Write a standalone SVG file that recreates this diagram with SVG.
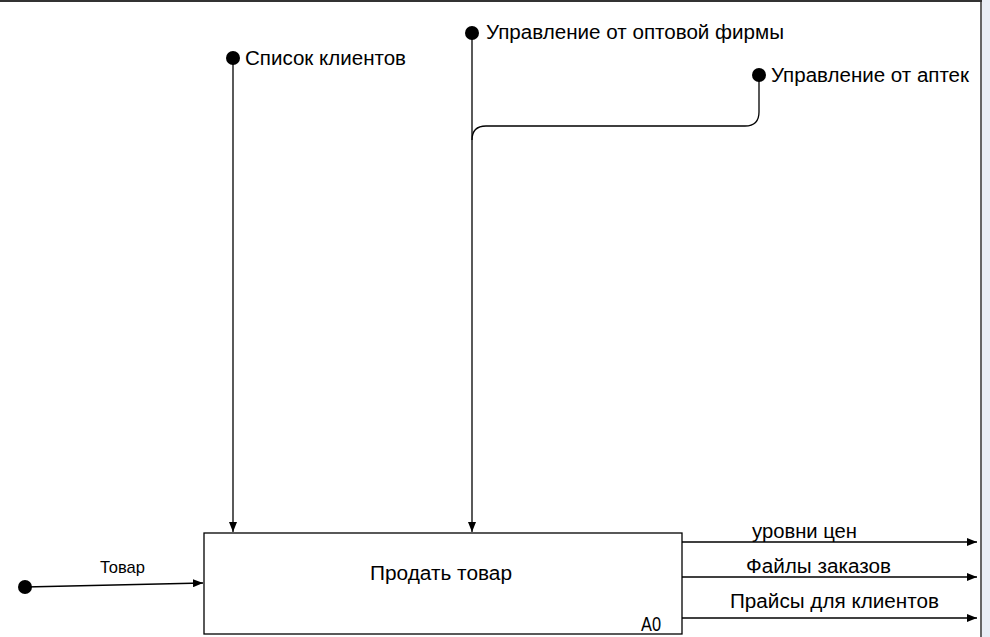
<svg xmlns="http://www.w3.org/2000/svg" width="990" height="637" viewBox="0 0 990 637">
<style>
.ln{fill:none;stroke:#000;stroke-width:1.3}
.dot{fill:#000}
.t{font-family:"Liberation Sans",Arial,sans-serif;font-size:20px;fill:#000}
.box{fill:#fff;stroke:#000;stroke-width:1.3}
</style>
<defs>
<marker id="ar" viewBox="0 0 10 8" refX="10" refY="4" markerWidth="10" markerHeight="8" markerUnits="userSpaceOnUse" orient="auto">
<path d="M0 0L10 4L0 8z" fill="#000"/>
</marker>
</defs>
<rect x="0" y="0" width="990" height="637" fill="#fff"/>
<rect x="982" y="0" width="8" height="637" fill="#e9eef6"/>
<line x1="0" y1="1" x2="982" y2="1" stroke="#333" stroke-width="2"/>
<line x1="981" y1="0" x2="981" y2="637" stroke="#333" stroke-width="1.5"/>
<g id="connectors">
<path class="ln" d="M25 587L203 583" marker-end="url(#ar)"/>
<path class="ln" d="M233 58V532" marker-end="url(#ar)"/>
<path class="ln" d="M472 33V532" marker-end="url(#ar)"/>
<path class="ln" d="M759 75V112Q759 126 745 126H486Q472 126 472 140"/>
<path class="ln" d="M682 542H977" marker-end="url(#ar)"/>
<path class="ln" d="M682 577H977" marker-end="url(#ar)"/>
<path class="ln" d="M682 618H977" marker-end="url(#ar)"/>
<circle class="dot" cx="25" cy="587" r="7"/>
<circle class="dot" cx="233" cy="58" r="7"/>
<circle class="dot" cx="472" cy="33" r="7"/>
<circle class="dot" cx="759" cy="75" r="7"/>
<text class="t" x="100" y="573" textLength="45" lengthAdjust="spacingAndGlyphs" style="font-size:17px">Товар</text>
<text class="t" x="245" y="65" textLength="161" lengthAdjust="spacingAndGlyphs">Список клиентов</text>
<text class="t" x="486" y="39" textLength="298" lengthAdjust="spacingAndGlyphs">Управление от оптовой фирмы</text>
<text class="t" x="771" y="82" textLength="198" lengthAdjust="spacingAndGlyphs">Управление от аптек</text>
<text class="t" x="752" y="538" textLength="105" lengthAdjust="spacingAndGlyphs">уровни цен</text>
<text class="t" x="746" y="573" textLength="145" lengthAdjust="spacingAndGlyphs">Файлы заказов</text>
<text class="t" x="730" y="608" textLength="209" lengthAdjust="spacingAndGlyphs">Прайсы для клиентов</text>
</g>
<g id="A0">
<rect class="box" x="204" y="533" width="478" height="101"/>
<text class="t" x="370" y="580" textLength="142" lengthAdjust="spacingAndGlyphs">Продать товар</text>
<text class="t" x="641" y="631" textLength="20" lengthAdjust="spacingAndGlyphs">A0</text>
</g>
</svg>
